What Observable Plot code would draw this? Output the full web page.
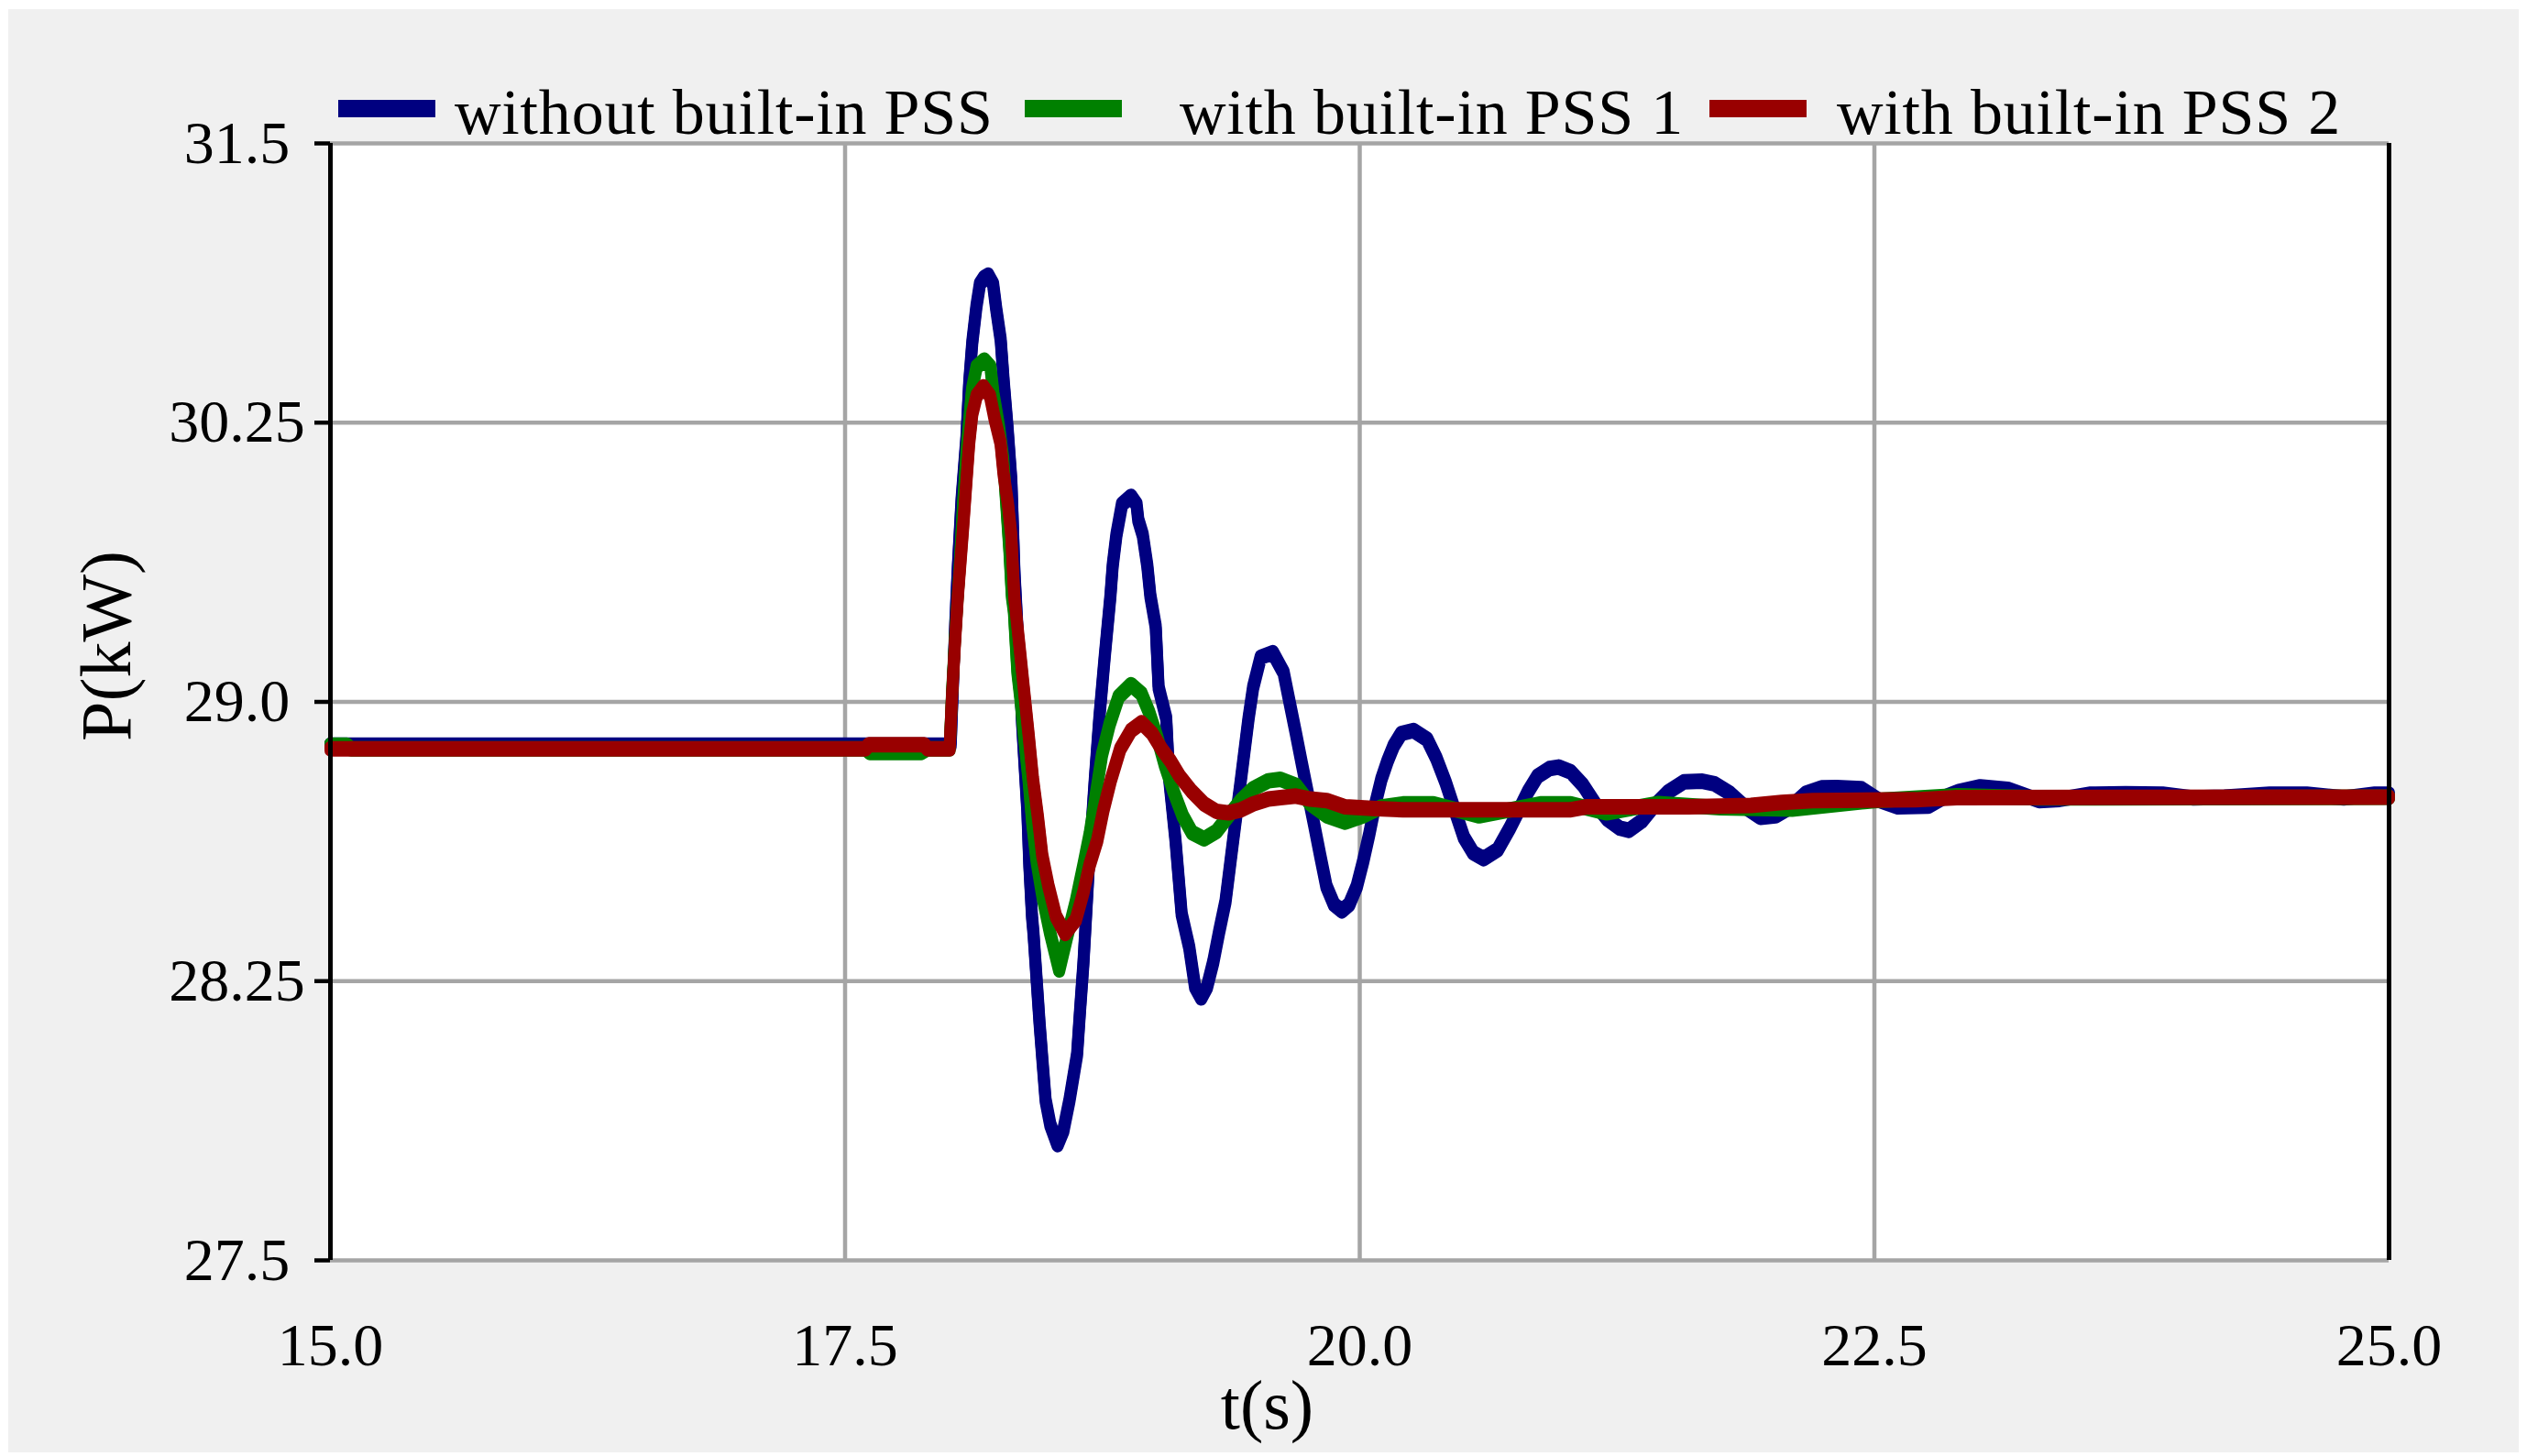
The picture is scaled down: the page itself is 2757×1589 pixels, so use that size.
<!DOCTYPE html>
<html>
<head>
<meta charset="utf-8">
<script src="https://cdn.jsdelivr.net/npm/d3@7"></script>
<script src="https://cdn.jsdelivr.net/npm/@observablehq/plot@0.6"></script>
<style>
  html, body { margin: 0; padding: 0; background: #ffffff; }
  #frame { position: absolute; left: 9px; top: 10px; width: 2739px; height: 1575px; background: #f0f0f0; overflow: hidden; font-family: "Liberation Serif", serif; }
  #chart { position: absolute; left: 0; top: 136px; }
  #legend { position: absolute; left: 0; top: 0; width: 100%; height: 150px; }
  .item { position: absolute; top: 0; height: 150px; }
  .sw { position: absolute; top: 99px; left: 0; width: 106px; height: 19px; }
  .lbl { position: absolute; top: 78px; white-space: pre; font-size: 70px; line-height: 70px; color: #000; letter-spacing: 0.8px; }
</style>
</head>
<body>
<div id="frame">
  <div id="chart"></div>
  <div id="legend"></div>
</div>
<script>
// ---------- data ----------
const seriesNames = ["without built-in PSS", "with built-in PSS 1", "with built-in PSS 2"];
const seriesColors = ["#000080", "#008000", "#990000"];

const xTicks = [15.0, 17.5, 20.0, 22.5, 25.0];
const xDomain = [15, 25];
const yTicks = [27.5, 28.25, 29.0, 30.25, 31.5];
const yTickLabels = ["27.5", "28.25", "29.0", "30.25", "31.5"];
const xLabel = "t(s)";
const yLabel = "P(kW)";

// [t (s), P (kW)]
const blueData = [
  [15.0, 28.884], [18.0, 28.884], [18.013, 28.884], [18.025, 29.10], [18.035, 29.35], [18.048, 29.61],
  [18.066, 29.91], [18.089, 30.18], [18.103, 30.43], [18.118, 30.61], [18.138, 30.77], [18.155, 30.87],
  [18.176, 30.90], [18.195, 30.91], [18.219, 30.87], [18.234, 30.76], [18.256, 30.62], [18.271, 30.43],
  [18.289, 30.23], [18.308, 29.99], [18.323, 29.58], [18.342, 29.25], [18.360, 28.94], [18.385, 28.71],
  [18.395, 28.56], [18.408, 28.423], [18.415, 28.38], [18.430, 28.258], [18.445, 28.135], [18.460, 28.028],
  [18.474, 27.93], [18.497, 27.864], [18.532, 27.811], [18.560, 27.848], [18.590, 27.93], [18.627, 28.053],
  [18.642, 28.176], [18.658, 28.30], [18.683, 28.546], [18.713, 28.792], [18.735, 28.956], [18.761, 29.20],
  [18.789, 29.474], [18.800, 29.61], [18.818, 29.747], [18.845, 29.884], [18.889, 29.92], [18.916, 29.884],
  [18.924, 29.815], [18.946, 29.747], [18.968, 29.61], [18.983, 29.474], [19.009, 29.337], [19.023, 29.064],
  [19.060, 28.956], [19.075, 28.79], [19.105, 28.628], [19.135, 28.43], [19.172, 28.34], [19.200, 28.235],
  [19.230, 28.205], [19.258, 28.234], [19.288, 28.30], [19.317, 28.382], [19.348, 28.464], [19.385, 28.628],
  [19.423, 28.792], [19.460, 28.956], [19.482, 29.064], [19.519, 29.20], [19.578, 29.22], [19.630, 29.132],
  [19.660, 28.997], [19.690, 28.915], [19.719, 28.833], [19.749, 28.751], [19.779, 28.669], [19.808, 28.587],
  [19.838, 28.505], [19.875, 28.456], [19.913, 28.439], [19.949, 28.456], [19.986, 28.505], [20.016, 28.57],
  [20.046, 28.644], [20.076, 28.726], [20.105, 28.792], [20.135, 28.841], [20.165, 28.882], [20.202, 28.915],
  [20.261, 28.923], [20.328, 28.899], [20.372, 28.849], [20.417, 28.784], [20.461, 28.71], [20.506, 28.636],
  [20.551, 28.595], [20.602, 28.579], [20.670, 28.603], [20.729, 28.661], [20.774, 28.71], [20.818, 28.759],
  [20.863, 28.80], [20.922, 28.821], [20.966, 28.825], [21.025, 28.812], [21.085, 28.776], [21.144, 28.726],
  [21.203, 28.685], [21.263, 28.661], [21.307, 28.655], [21.370, 28.68], [21.426, 28.718], [21.500, 28.759],
  [21.575, 28.785], [21.664, 28.787], [21.723, 28.78], [21.797, 28.755], [21.871, 28.718], [21.946, 28.69],
  [22.020, 28.694], [22.094, 28.718], [22.168, 28.755], [22.243, 28.769], [22.317, 28.770], [22.436, 28.767],
  [22.525, 28.735], [22.614, 28.718], [22.762, 28.72], [22.836, 28.743], [22.910, 28.759], [23.014, 28.772],
  [23.148, 28.765], [23.300, 28.735], [23.400, 28.738], [23.550, 28.752], [23.720, 28.753], [23.900, 28.752],
  [24.050, 28.742], [24.200, 28.744], [24.420, 28.752], [24.600, 28.752], [24.780, 28.742], [24.930, 28.752],
  [25.0, 28.752]
];

const greenData = [
  [15.0, 28.884], [15.08, 28.884], [15.1, 28.874], [17.6, 28.874], [17.62, 28.864], [17.87, 28.864],
  [17.9, 28.874], [18.008, 28.874], [18.020, 29.05], [18.035, 29.3], [18.057, 29.61], [18.073, 29.884],
  [18.093, 30.157], [18.117, 30.40], [18.139, 30.50], [18.176, 30.53], [18.206, 30.50], [18.221, 30.377],
  [18.248, 30.23], [18.268, 30.089], [18.283, 29.884], [18.298, 29.679], [18.310, 29.474], [18.320, 29.405],
  [18.337, 29.132], [18.354, 28.997], [18.368, 28.915], [18.391, 28.792], [18.410, 28.669], [18.431, 28.57],
  [18.458, 28.48], [18.495, 28.382], [18.540, 28.28], [18.577, 28.366], [18.621, 28.464], [18.658, 28.562],
  [18.688, 28.644], [18.718, 28.751], [18.748, 28.858], [18.785, 28.94], [18.829, 29.023], [18.889, 29.077],
  [18.940, 29.036], [18.977, 28.972], [19.015, 28.907], [19.052, 28.833], [19.096, 28.759], [19.140, 28.694],
  [19.185, 28.649], [19.244, 28.632], [19.304, 28.652], [19.363, 28.694], [19.422, 28.735], [19.482, 28.767],
  [19.556, 28.788], [19.615, 28.792], [19.690, 28.776], [19.760, 28.726], [19.840, 28.694], [19.930, 28.677],
  [20.016, 28.694], [20.105, 28.718], [20.210, 28.726], [20.358, 28.726], [20.580, 28.694], [20.730, 28.71],
  [20.877, 28.726], [21.025, 28.726], [21.200, 28.702], [21.320, 28.714], [21.450, 28.727], [21.750, 28.716],
  [22.100, 28.712], [22.500, 28.735], [22.900, 28.748], [23.300, 28.742], [25.0, 28.744]
];

const redData = [
  [15.0, 28.874], [17.6, 28.874], [17.615, 28.885], [17.885, 28.885], [17.9, 28.874], [18.008, 28.874],
  [18.018, 29.0], [18.033, 29.25], [18.048, 29.474], [18.073, 29.774], [18.089, 29.98], [18.103, 30.16],
  [18.118, 30.29], [18.139, 30.37], [18.172, 30.41], [18.204, 30.37], [18.226, 30.27], [18.255, 30.16],
  [18.270, 30.02], [18.292, 29.88], [18.307, 29.75], [18.322, 29.47], [18.345, 29.269], [18.368, 29.064],
  [18.391, 28.915], [18.413, 28.792], [18.436, 28.694], [18.458, 28.587], [18.488, 28.505], [18.525, 28.423],
  [18.569, 28.378], [18.621, 28.415], [18.658, 28.489], [18.688, 28.562], [18.725, 28.628], [18.755, 28.71],
  [18.792, 28.792], [18.837, 28.874], [18.889, 28.923], [18.940, 28.944], [18.992, 28.915], [19.037, 28.874],
  [19.081, 28.841], [19.126, 28.80], [19.185, 28.759], [19.244, 28.726], [19.304, 28.706], [19.363, 28.702],
  [19.422, 28.71], [19.482, 28.726], [19.556, 28.739], [19.615, 28.743], [19.690, 28.747], [19.760, 28.739],
  [19.840, 28.735], [19.930, 28.718], [20.060, 28.714], [20.210, 28.71], [21.020, 28.71], [21.100, 28.718],
  [21.600, 28.718], [21.900, 28.722], [22.050, 28.73], [22.200, 28.735], [22.700, 28.737], [22.900, 28.743],
  [25.0, 28.744]
];

const seriesData = [blueData, greenData, redData];

// ---------- chart ----------
const yLabelMap = new Map(yTicks.map((v, i) => [v, yTickLabels[i]]));
const gridColor = "#a5a5a5";
const lineW = 13;

const lineMarks = [];
seriesData.forEach((data, i) => {
  for (const off of [-2, 2]) {
    lineMarks.push(Plot.line(data, {
      x: d => d[0], y: d => d[1],
      stroke: seriesColors[i], strokeWidth: lineW,
      strokeLinecap: "round", strokeLinejoin: "round", dy: off
    }));
  }
});

const chart = Plot.plot({
  width: 2739,
  height: 1439,
  marginLeft: 351,
  marginRight: 142,
  marginTop: 10,
  marginBottom: 210,
  style: { background: "transparent", fontFamily: "Liberation Serif", color: "#000", overflow: "visible" },
  x: { type: "linear", domain: xDomain },
  y: { type: "linear", domain: yTicks },
  marks: [
    Plot.frame({ fill: "#ffffff", stroke: null }),
    Plot.gridY(yTicks, { stroke: gridColor, strokeOpacity: 1, strokeWidth: 4.5 }),
    Plot.gridX(xTicks, { stroke: gridColor, strokeOpacity: 1, strokeWidth: 4.5 }),
    ...lineMarks,
    Plot.ruleX(xDomain, { stroke: "#000", strokeWidth: 5 }),
    Plot.axisY(yTicks, {
      tickSize: 17, tickPadding: 85, textAnchor: "middle", strokeWidth: 4.5,
      tickFormat: d => yLabelMap.get(d), fontSize: 66, label: null
    }),
    Plot.axisX(xTicks, {
      tickSize: 0, tickPadding: 68, tickFormat: d => d.toFixed(1), fontSize: 66, label: null
    }),
    Plot.text([xLabel], { text: d => d, frameAnchor: "bottom", textAnchor: "middle", lineAnchor: "middle", dy: 159, dx: -101, fontSize: 76 }),
    Plot.text([yLabel], { text: d => d, frameAnchor: "left", textAnchor: "middle", rotate: -90, lineAnchor: "middle", dx: -243, dy: -61, fontSize: 78 })
  ]
});
document.getElementById("chart").appendChild(chart);

// ---------- legend ----------
const legendLefts = [360, 1109, 1856];
const legendTextOffsets = [127, 169, 139];
const legend = document.getElementById("legend");
seriesNames.forEach((name, i) => {
  const item = document.createElement("div");
  item.className = "item";
  item.style.left = legendLefts[i] + "px";
  const sw = document.createElement("div");
  sw.className = "sw";
  sw.style.background = seriesColors[i];
  const lbl = document.createElement("div");
  lbl.className = "lbl";
  lbl.style.left = legendTextOffsets[i] + "px";
  lbl.textContent = name;
  item.appendChild(sw);
  item.appendChild(lbl);
  legend.appendChild(item);
});
</script>
</body>
</html>
